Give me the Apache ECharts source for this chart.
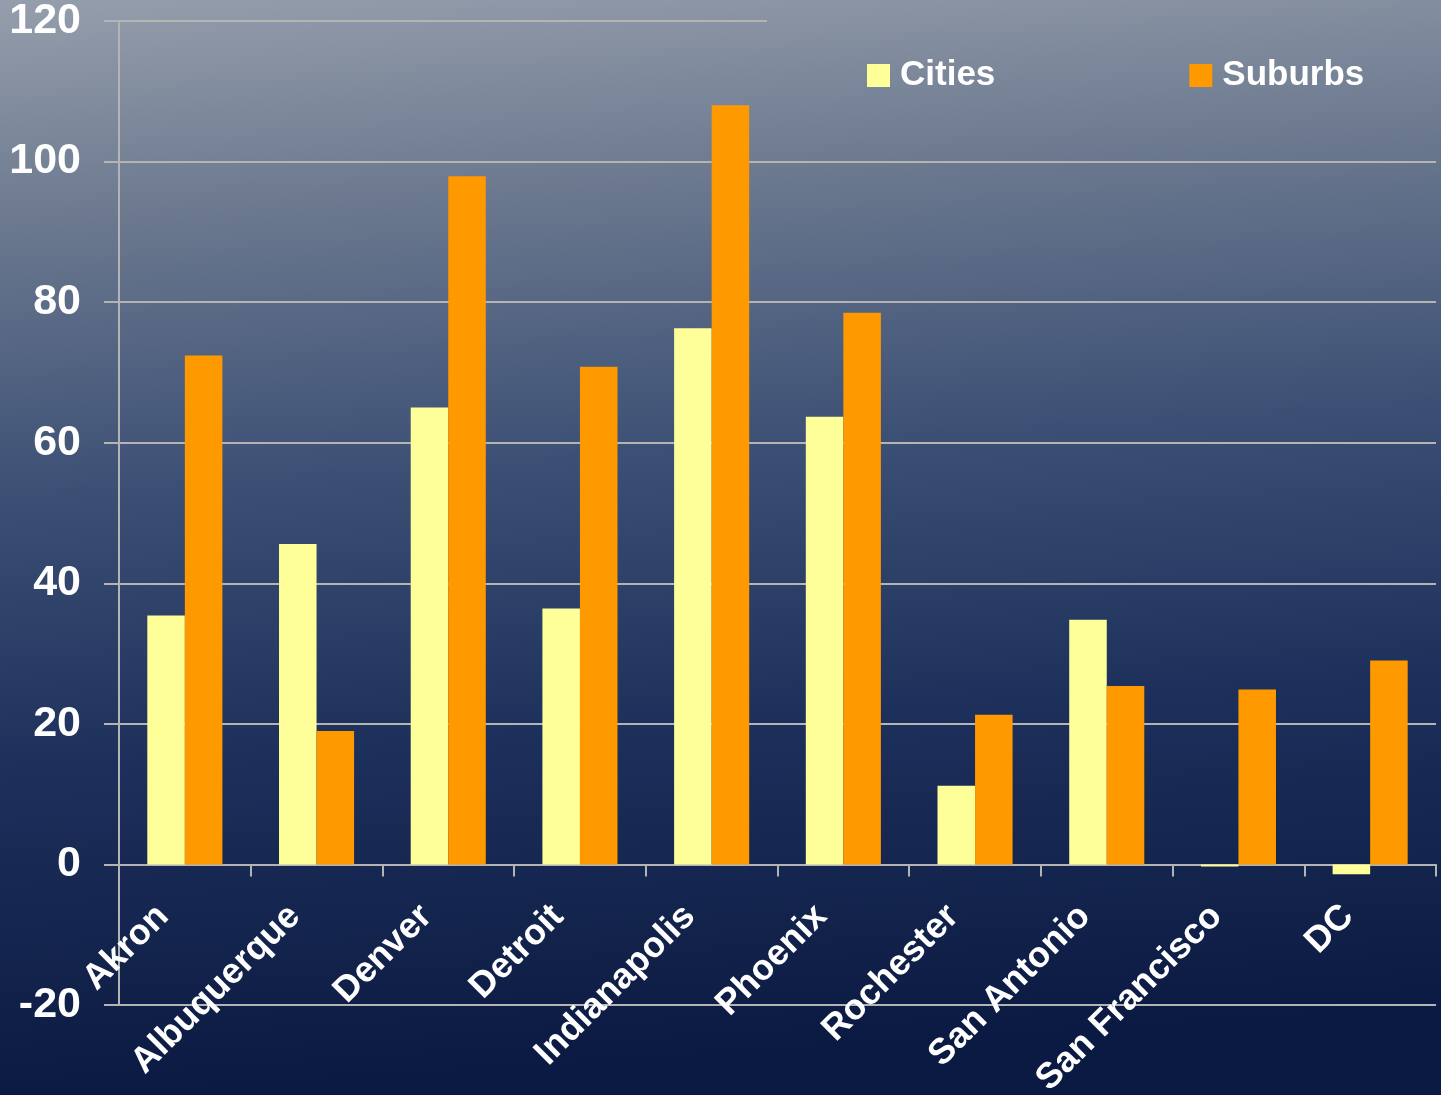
<!DOCTYPE html>
<html>
<head>
<meta charset="utf-8">
<script src="https://cdn.jsdelivr.net/npm/echarts@6/dist/echarts.min.js"></script>
<style>
html,body{margin:0;padding:0;}
#c{width:1441px;height:1095px;}
</style>
</head>
<body>
<div id="c"></div>
<script>
const categories = ['Akron','Albuquerque','Denver','Detroit','Indianapolis','Phoenix','Rochester','San Antonio','San Francisco','DC'];
const cities = [35.4, 45.6, 65.0, 36.4, 76.3, 63.7, 11.2, 34.8, -0.3, -1.4];
const suburbs = [72.4, 19.0, 97.9, 70.8, 108.0, 78.5, 21.3, 25.4, 24.9, 29.0];
const yMin = -20, yMax = 120, yStep = 20;

const gridColor = '#b4b4b4';
const splitColors = [];
for (let v = yMin; v <= yMax; v += yStep) splitColors.push(v === yMax ? 'rgba(0,0,0,0)' : gridColor);

const chart = echarts.init(document.getElementById('c'));
const font = '"Liberation Sans", Arial, sans-serif';
chart.setOption({
  backgroundColor: {
    type: 'linear', x: 0, y: 0, x2: 0.05, y2: 1,
    colorStops: [
      {offset: 0, color: '#959eac'},
      {offset: 0.2, color: '#6c798f'},
      {offset: 0.45, color: '#3c5075'},
      {offset: 0.7, color: '#1d305b'},
      {offset: 1, color: '#0b1a42'}
    ]
  },
  animation: false,
  textStyle: {fontFamily: font},
  grid: {left: 119, right: 5, top: 21, bottom: 90, containLabel: false, outerBoundsMode: 'none'},
  legend: {
    left: 862, top: 53,
    icon: 'rect', itemWidth: 23, itemHeight: 23, itemGap: 194,
    textStyle: {color: '#ffffff', fontSize: 35, fontWeight: 'bold', fontFamily: font, padding: [0,0,0,5]},
    data: ['Cities', 'Suburbs']
  },
  xAxis: {
    type: 'category',
    data: categories,
    axisLine: {show: true, onZero: true, lineStyle: {color: gridColor, width: 2}},
    axisTick: {show: true, length: 12, lineStyle: {color: gridColor, width: 2}},
    axisLabel: {color: '#ffffff', fontSize: 36, fontWeight: 'bold', fontFamily: font, rotate: 45, margin: -116, padding: [0, 31, 0, 0], interval: 0, hideOverlap: false}
  },
  yAxis: {
    type: 'value', min: yMin, max: yMax, interval: yStep,
    axisLine: {show: true, lineStyle: {color: gridColor, width: 2}},
    axisTick: {show: true, length: 15, lineStyle: {color: gridColor, width: 2}},
    splitLine: {show: true, lineStyle: {color: splitColors, width: 2}},
    axisLabel: {color: '#ffffff', fontSize: 43, fontWeight: 'bold', fontFamily: font, margin: 38}
  },
  series: [
    {name: 'Cities', type: 'bar', data: cities, barGap: '0%', barCategoryGap: '43%', itemStyle: {color: '#ffff99'},
     markLine: {
       silent: true, symbol: ['none', 'none'], label: {show: false},
       lineStyle: {color: gridColor, width: 2, type: 'solid'},
       data: [[{yAxis: yMax, x: 119}, {yAxis: yMax, x: 767}]]
     }},
    {name: 'Suburbs', type: 'bar', data: suburbs, barGap: '0%', barCategoryGap: '43%', itemStyle: {color: '#ff9900'}}
  ]
});
</script>
</body>
</html>
